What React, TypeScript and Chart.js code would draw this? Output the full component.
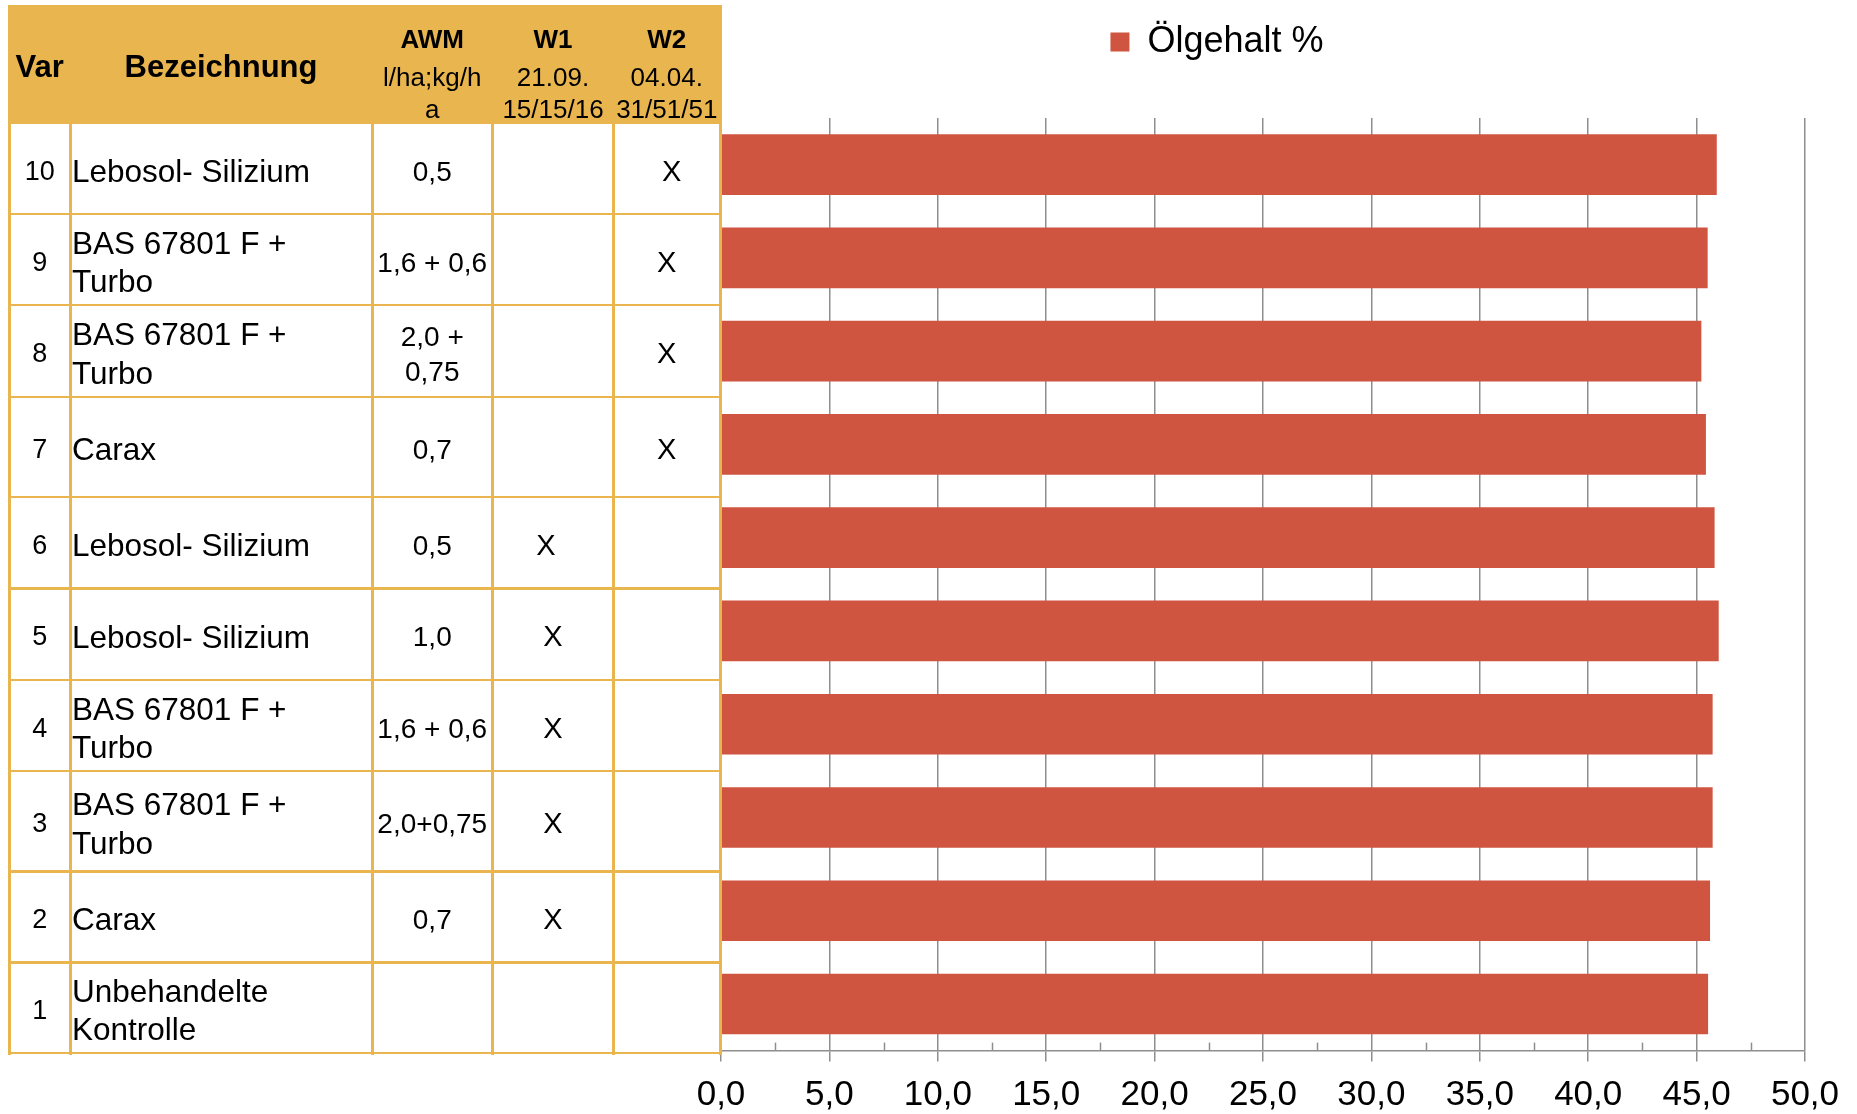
import React, { useEffect, useRef } from 'react';
import { Chart, registerables } from 'chart.js';

Chart.register(...registerables);

// ---------- data ----------
const categories = ['1', '2', '3', '4', '5', '6', '7', '8', '9', '10'];
const oilContent = [45.53, 45.62, 45.74, 45.74, 46.02, 45.83, 45.43, 45.22, 45.51, 45.93];
const seriesLabel = 'Ölgehalt %';

const names = [
  'Unbehandelte\nKontrolle',
  'Carax',
  'BAS 67801 F +\nTurbo',
  'BAS 67801 F +\nTurbo',
  'Lebosol- Silizium',
  'Lebosol- Silizium',
  'Carax',
  'BAS 67801 F +\nTurbo',
  'BAS 67801 F +\nTurbo',
  'Lebosol- Silizium',
];
const awm = ['', '0,7', '2,0+0,75', '1,6 + 0,6', '1,0', '0,5', '0,7', '2,0 +\n0,75', '1,6 + 0,6', '0,5'];
const w1 = ['', 'X', 'X', 'X', 'X', 'X', '', '', '', ''];
const w2 = ['', '', '', '', '', '', 'X', 'X', 'X', 'X'];

const headerTitles = ['Var', 'Bezeichnung', 'AWM', 'W1', 'W2'];
const headerSubs = ['', '', 'l/ha;kg/h\na', '21.09.\n15/15/16', '04.04.\n31/51/51'];

const xMin = 0;
const xMax = 50;
const xStep = 5;
const xMinorStep = 2.5;

// ---------- styles ----------
const FONT = '"Liberation Sans", Arial, Helvetica, sans-serif';
const BAR = '#CF5540';
const GRID = '#8e8e8e';
const ORANGE = '#E9B54E';

const CANVAS_W = 1857;
const CANVAS_H = 1129;

const colX = [9.5, 70, 372, 492.5, 613.5, 720];
const rowY = [123, 214, 305, 397, 497, 588.5, 680, 771, 871.5, 962.5, 1053];
const headerTop = 5;
const markShift: Record<string, number> = { '10': 5, '6': -7 };

function Table() {
  const items: React.ReactNode[] = [];
  // header fill
  items.push(
    <div key="hdr" style={{ position: 'absolute', left: colX[0], top: headerTop, width: colX[5] - colX[0], height: rowY[0] - headerTop, background: ORANGE }} />
  );
  // vertical lines
  colX.forEach((x, i) => {
    items.push(
      <div key={'v' + i} style={{ position: 'absolute', left: x - 1.5, top: headerTop, width: 3, height: rowY[10] + 1.5 - headerTop, background: ORANGE }} />
    );
  });
  // horizontal lines
  rowY.forEach((y, i) => {
    items.push(
      <div key={'h' + i} style={{ position: 'absolute', left: colX[0] - 1.5, top: y - 1.25, width: colX[5] - colX[0] + 3, height: 2.5, background: ORANGE }} />
    );
  });

  const cell = (key: string, left: number, top: number, width: number, height: number, text: string, style: React.CSSProperties) => (
    <div
      key={key}
      style={{
        position: 'absolute', left, top, width, height, display: 'flex', alignItems: 'center',
        justifyContent: 'center', textAlign: 'center', whiteSpace: 'pre', color: '#000', fontFamily: FONT,
        boxSizing: 'border-box',
        ...style,
      }}
    >
      {text}
    </div>
  );

  // header titles
  items.push(cell('hv', colX[0], 47, colX[1] - colX[0], 40, headerTitles[0], { fontSize: 31, fontWeight: 700 }));
  items.push(cell('hb', colX[1], 47, colX[2] - colX[1], 40, headerTitles[1], { fontSize: 31, fontWeight: 700 }));
  for (let c = 2; c < 5; c++) {
    items.push(cell('ht' + c, colX[c], 22, colX[c + 1] - colX[c], 34, headerTitles[c], { fontSize: 26, fontWeight: 700 }));
    items.push(
      <div key={'hs' + c} style={{ position: 'absolute', left: colX[c], top: 60.5, width: colX[c + 1] - colX[c], textAlign: 'center', whiteSpace: 'pre', fontFamily: FONT, fontSize: 26, lineHeight: '32px', color: '#000' }}>
        {headerSubs[c]}
      </div>
    );
  }

  // body rows (top: var 10 ... bottom: var 1)
  for (let r = 0; r < 10; r++) {
    const i = categories.length - 1 - r;
    const top = rowY[r] + 2.5;
    const h = rowY[r + 1] - rowY[r];
    const v = categories[i];
    items.push(cell('c0' + r, colX[0], top, colX[1] - colX[0], h, v, { fontSize: 27 }));
    items.push(cell('c1' + r, colX[1] + 2, top, colX[2] - colX[1] - 2, h, names[i], { fontSize: 31.5, lineHeight: '38.5px', justifyContent: 'flex-start', textAlign: 'left' }));
    items.push(cell('c2' + r, colX[2], top, colX[3] - colX[2], h, awm[i], { fontSize: 28, lineHeight: '35px' }));
    const sh = markShift[v] || 0;
    items.push(cell('c3' + r, colX[3] + sh, top, colX[4] - colX[3], h, w1[i], { fontSize: 29 }));
    items.push(cell('c4' + r, colX[4] + sh, top, colX[5] - colX[4], h, w2[i], { fontSize: 29 }));
  }
  return <>{items}</>;
}

export default function App() {
  const canvasRef = useRef<HTMLCanvasElement>(null);

  useEffect(() => {
    const canvas = canvasRef.current;
    if (!canvas) return;
    Chart.defaults.font.family = FONT;

    const minorTicks = {
      id: 'minorTicks',
      afterDatasetsDraw(chart: any) {
        const sx = chart.scales.x;
        const { ctx, chartArea } = chart;
        ctx.save();
        ctx.strokeStyle = GRID;
        ctx.lineWidth = 1.5;
        for (let v = xMin + xMinorStep; v < xMax; v += xStep) {
          const px = Math.round(sx.getPixelForValue(v)) + 0.5;
          ctx.beginPath();
          ctx.moveTo(px, chartArea.bottom - 8);
          ctx.lineTo(px, chartArea.bottom);
          ctx.stroke();
        }
        ctx.restore();
      },
    };

    const chart = new Chart(canvas, {
      type: 'bar',
      data: {
        labels: categories,
        datasets: [
          {
            label: seriesLabel,
            data: oilContent,
            backgroundColor: BAR,
            borderColor: BAR,
            borderWidth: 0,
            barPercentage: 0.65,
            categoryPercentage: 1,
            xAxisID: 'x',
            yAxisID: 'y',
          },
        ],
      },
      options: {
        indexAxis: 'y',
        responsive: false,
        animation: false,
        devicePixelRatio: 1,
        layout: { padding: { left: 629, right: 52, top: 14, bottom: 0.4 } },
        plugins: {
          legend: {
            display: true,
            position: 'top',
            align: 'center',
            labels: {
              boxWidth: 19,
              boxHeight: 19,
              padding: 10,
              color: '#000',
              font: { size: 36, family: FONT },
            },
          },
          tooltip: { enabled: false },
        },
        scales: {
          x: {
            type: 'linear',
            position: 'bottom',
            min: xMin,
            max: xMax,
            ticks: {
              stepSize: xStep,
              padding: 16,
              color: '#000',
              autoSkip: false,
              maxRotation: 0,
              font: { size: 35, family: FONT, lineHeight: 1 },
              callback: (v: any) => Number(v).toFixed(1).replace('.', ','),
            },
            grid: { color: GRID, lineWidth: 1.5, tickLength: 11, drawTicks: true },
            border: { display: true, color: GRID, width: 1.5 },
          },
          xTop: {
            type: 'linear',
            axis: 'x',
            position: 'top',
            display: true,
            grid: { display: false },
            border: { display: false },
            ticks: { display: false },
            afterFit: (s: any) => {
              s.height = 48;
            },
          },
          y: {
            type: 'category',
            reverse: true,
            grid: { display: false },
            border: { display: false },
            ticks: { display: false },
            afterFit: (s: any) => {
              s.width = 92;
            },
          },
        },
      } as any,
      plugins: [minorTicks],
    });
    return () => chart.destroy();
  }, []);

  return (
    <div style={{ position: 'absolute', left: 0, top: 0, width: 1857, height: 1114, overflow: 'hidden', background: '#fff' }}>
      <canvas ref={canvasRef} width={CANVAS_W} height={CANVAS_H} style={{ position: 'absolute', left: 0, top: 0, width: CANVAS_W, height: CANVAS_H }} />
      <Table />
    </div>
  );
}
